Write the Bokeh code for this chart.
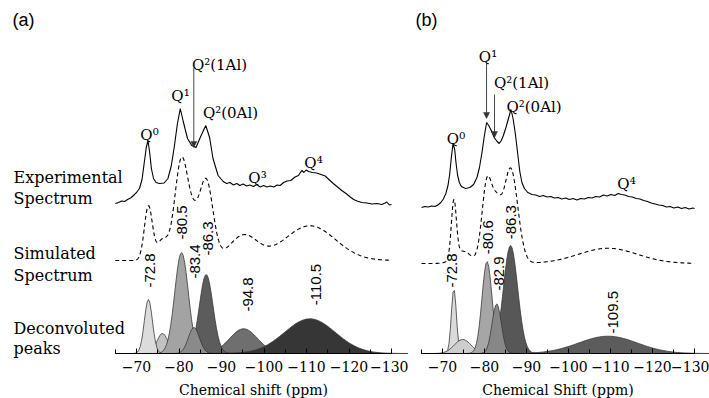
import numpy as np
from bokeh.plotting import figure
from bokeh.layouts import row
from bokeh.models import Range1d, FixedTicker, Arrow, NormalHead
from bokeh.core.properties import value
from bokeh.embed import file_html
from bokeh.resources import INLINE

SERIF = "DejaVu Serif"
SANS = "Liberation Sans"

# ---------------- Panel (a) data ----------------
a_exp_ppm = [-65.0, -65.8, -66.5, -67.2, -67.9, -68.6, -69.3, -70.0, -70.7, -71.3, -71.8, -72.3,
             -72.7, -73.1, -73.5, -74.0, -74.6, -75.4, -76.5, -77.4, -78.2, -78.9, -79.6, -80.3,
             -81.0, -82.0, -83.0, -84.0, -85.1, -86.3, -87.2, -88.0, -89.2, -90.4, -91.2, -92.0,
             -92.8, -93.6, -94.3, -95.1, -95.9, -96.7, -97.5, -98.3, -99.1, -99.9, -100.7, -101.5,
             -102.3, -103.1, -103.8, -104.6, -105.4, -106.3, -107.3, -108.1, -108.9, -109.4,
             -109.9, -110.5, -111.4, -112.4, -113.4, -114.4, -115.4, -116.3, -117.3, -118.3,
             -119.3, -120.3, -121.1, -121.9, -123.0, -124.2, -125.4, -126.6, -127.7, -128.5,
             -128.9, -129.5, -130.0]
a_exp_int = [0, 1, 2.5, 2, 4, 5.5, 8, 11, 15, 24, 40, 56,
             63, 51, 35, 25, 21, 20, 20.5, 25, 38, 57, 79, 95,
             82, 65, 58, 56, 67, 78, 66, 45, 28, 22, 20, 21,
             18.5, 20, 18, 19.5, 17.5, 18.5, 17, 19, 16.5, 18, 16.5, 17.5,
             16.5, 18.5, 18, 21, 22.5, 23, 26.5, 28, 33, 31,
             33.5, 32, 31, 30.5, 29, 27.5, 23.5, 20, 16.5, 13,
             10, 6.5, 4, 2.5, 1, 0.5, -0.5, 0, -1, 0.5,
             1.5, -1.5, -1]
a_peak_center = [-72.8, -76.1, -80.6, -83.5, -86.4, -95.2, -110.8]
a_peak_height = [54, 20, 101, 26, 79, 24.7, 34.7]
a_peak_sigma = [0.95, 1.3, 1.6, 1.3, 1.6, 3.3, 6.0]
a_peak_label = ["-72.8", "", "-80.5", "-83.4", "-86.3", "-94.8", "-110.5"]
a_sim_scale = 1.0

# ---------------- Panel (b) data ----------------
b_exp_ppm = [-65.0, -65.8, -66.6, -67.4, -68.2, -68.9, -69.6, -70.2, -70.8, -71.3, -71.7, -72.1,
             -72.5, -72.9, -73.2, -73.6, -74.0, -74.5, -75.5, -76.5, -77.4, -78.2, -78.8, -79.4,
             -79.9, -80.5, -81.0, -81.6, -82.3, -83.0, -83.5, -84.0, -84.5, -85.1, -85.7, -86.3,
             -86.8, -87.3, -87.9, -88.4, -88.9, -89.5, -90.3, -91.3, -92.2, -93.1, -94.0, -94.9,
             -95.8, -96.6, -97.5, -98.4, -99.3, -100.2, -101.1, -102.0, -102.9, -103.8, -104.7,
             -105.6, -106.5, -107.4, -108.3, -109.2, -110.1, -111.0, -111.8, -112.6, -113.4,
             -114.3, -115.2, -116.1, -117.0, -117.9, -118.8, -119.7, -120.6, -121.5, -122.4,
             -123.3, -124.2, -125.1, -126.0, -126.9, -127.8, -128.7, -129.6, -130.0]
b_exp_int = [0, 1, 0.5, 1.5, 1, 2.5, 5, 8.5, 14, 22, 33, 50,
             64, 58, 45, 32, 25, 21, 19, 20, 23, 30, 40, 55,
             70, 85, 82, 77, 70, 66, 64, 67, 72, 80, 89, 98,
             89, 75, 54, 36, 25, 19, 15, 13, 12.5, 11, 12, 10.5,
             11, 9.5, 10, 8.5, 9.5, 8, 9, 7.5, 9, 8.5, 10,
             9.5, 11, 10.5, 12.5, 11.5, 13, 12, 14, 13, 12.5,
             11, 10.5, 9, 8.5, 7, 6, 4.5, 3.5, 2.5, 2,
             0.5, 1, -0.5, 0.5, -1, 0, -1.5, -0.5, -1]
b_peak_center = [-72.7, -74.8, -80.6, -82.9, -86.2, -109.4]
b_peak_height = [64.7, 14, 92, 49.7, 108, 17.3]
b_peak_sigma = [0.6, 2.0, 1.2, 1.1, 1.7, 7.0]
b_peak_label = ["-72.8", "", "-80.6", "-82.9", "-86.3", "-109.5"]
b_sim_scale = 0.88

tick_values = [-70, -80, -90, -100, -110, -120, -130]
minor_values = [-65, -75, -85, -95, -105, -115, -125]

# ---------------- styles / layout ----------------
a_colors = ["#dcdcdc", "#c2c2c2", "#a3a3a3", "#8a8a8a", "#5c5c5c", "#6f6f6f", "#363636"]
a_order = [5, 6, 4, 1, 0, 2, 3]
b_colors = ["#dadada", "#cdcdcd", "#a6a6a6", "#878787", "#575757", "#5c5c5c"]
b_order = [5, 4, 0, 1, 2, 3]

EXP_OFFSET_A, SIM_OFFSET_A = 150, 93
EXP_OFFSET_B, SIM_OFFSET_B = 146, 90

grid = np.linspace(-65, -130, 651)


def gauss(x, c, h, s):
    return h * np.exp(-0.5 * ((x - c) / s) ** 2)


def make_panel(width, x_start, x_end, axis_title):
    p = figure(width=width, height=398, x_range=Range1d(x_start, x_end), y_range=Range1d(-45, 353),
               output_backend="svg", toolbar_location=None, tools="", y_axis_location=None,
               min_border_left=0, min_border_right=0, min_border_top=0, min_border_bottom=0)
    p.grid.visible = False
    p.outline_line_color = None
    p.background_fill_color = "white"
    p.border_fill_color = "white"
    ax = p.xaxis[0]
    ax.fixed_location = 0
    ax.bounds = (-130, -65)
    ax.ticker = FixedTicker(ticks=tick_values, minor_ticks=minor_values)
    ax.axis_line_color = "black"
    ax.axis_line_width = 1.2
    ax.major_tick_in = 5
    ax.major_tick_out = 0
    ax.minor_tick_in = 4
    ax.minor_tick_out = 0
    ax.major_tick_line_color = "black"
    ax.minor_tick_line_color = "black"
    ax.major_label_text_font = SERIF
    ax.major_label_text_font_size = "14px"
    ax.major_label_text_color = "black"
    ax.major_label_standoff = 7
    ax.axis_label = axis_title
    ax.axis_label_text_font = SERIF
    ax.axis_label_text_font_style = "normal"
    ax.axis_label_text_font_size = "14px"
    ax.axis_label_text_color = "black"
    ax.axis_label_standoff = 7
    return p


def draw_spectra(p, exp_ppm, exp_int, centers, heights, sigmas, colors, order,
                 exp_off, sim_off, sim_scale):
    # deconvoluted peaks
    for i in order:
        c, h, s = centers[i], heights[i], sigmas[i]
        lo, hi = max(c + 4.5 * s, -65), min(c - 4.5 * s, -130)
        xs = np.linspace(lo, hi, 200)
        ys = gauss(xs, c, h, s)
        p.patch(list(xs) + [hi, lo], list(ys) + [0, 0], fill_color=colors[i],
                line_color="#3a3a3a", line_width=0.8)
    # simulated spectrum
    total = np.zeros_like(grid)
    for c, h, s in zip(centers, heights, sigmas):
        total += gauss(grid, c, h, s)
    p.line(grid, total * sim_scale + sim_off, line_color="black", line_width=1.1, line_dash="4 3")
    # experimental spectrum
    p.line(exp_ppm, [v + exp_off for v in exp_int], line_color="black", line_width=1.1)


def add_text(p, xs, ys, texts, font, size, align="center", baseline="alphabetic", angle=0.0):
    p.text(x=xs, y=ys, text=texts, text_font=value(font), text_font_size=size,
           text_align=align, text_baseline=baseline, angle=angle, text_color="black")


def add_arrow(p, x, y0, y1):
    p.add_layout(Arrow(end=NormalHead(size=6, fill_color="#333333", line_color="#333333", line_width=0.5),
                       x_start=x, y_start=y0, x_end=x, y_end=y1,
                       line_color="#333333", line_width=0.9))


# ---------------- Panel (a) ----------------
pa = make_panel(408, -38.0, -134.0, "Chemical shift (ppm)")
draw_spectra(pa, a_exp_ppm, a_exp_int, a_peak_center, a_peak_height, a_peak_sigma,
             a_colors, a_order, EXP_OFFSET_A, SIM_OFFSET_A, a_sim_scale)
add_text(pa, [-40.82], [333.5], ["(a)"], SANS, "18px", align="left", baseline="middle")
add_text(pa, [-41.06] * 6, [176, 155, 100, 78, 25, 5],
         ["Experimental", "Spectrum", "Simulated", "Spectrum", "Deconvoluted", "peaks"],
         SERIF, "16px", align="left")
add_text(pa, [-73.06, -80.35, -89.53, -92.12, -98.47, -111.65], [219, 258, 289, 241, 176, 191],
         ["Q\u2070", "Q\u00b9", "Q\u00b2(1Al)", "Q\u00b2(0Al)", "Q\u00b3", "Q\u2074"], SERIF, "15px")
a_lab_x = [-73.29, -80.82, -83.65, -86.94, -96.12, -112.12]
a_lab_y = [83, 131, 92, 115, 59, 69]
add_text(pa, a_lab_x, a_lab_y, [t for t in a_peak_label if t], SANS, "15px",
         baseline="middle", angle=np.pi / 2)
add_arrow(pa, -83.48, 286, 206)

# ---------------- Panel (b) ----------------
pb = make_panel(301, -61.9, -133.57, "Chemical Shift (ppm)")
draw_spectra(pb, b_exp_ppm, b_exp_int, b_peak_center, b_peak_height, b_peak_sigma,
             b_colors, b_order, EXP_OFFSET_B, SIM_OFFSET_B, b_sim_scale)
add_text(pb, [-63.57], [333.5], ["(b)"], SANS, "18px", align="left", baseline="middle")
add_text(pb, [-73.21, -80.83, -88.81, -91.79, -113.81], [215, 297, 271, 247, 170],
         ["Q\u2070", "Q\u00b9", "Q\u00b2(1Al)", "Q\u00b2(0Al)", "Q\u2074"], SERIF, "15px")
b_lab_x = [-72.26, -80.88, -83.33, -86.19, -110.71]
b_lab_y = [83, 116.3, 80, 131.3, 41.3]
add_text(pb, b_lab_x, b_lab_y, [t for t in b_peak_label if t], SANS, "15px",
         baseline="middle", angle=np.pi / 2)
add_arrow(pb, -80.48, 293, 235)
add_arrow(pb, -82.38, 259, 216)

layout = row(pa, pb)
open("out.html", "w").write(file_html(layout, INLINE))
